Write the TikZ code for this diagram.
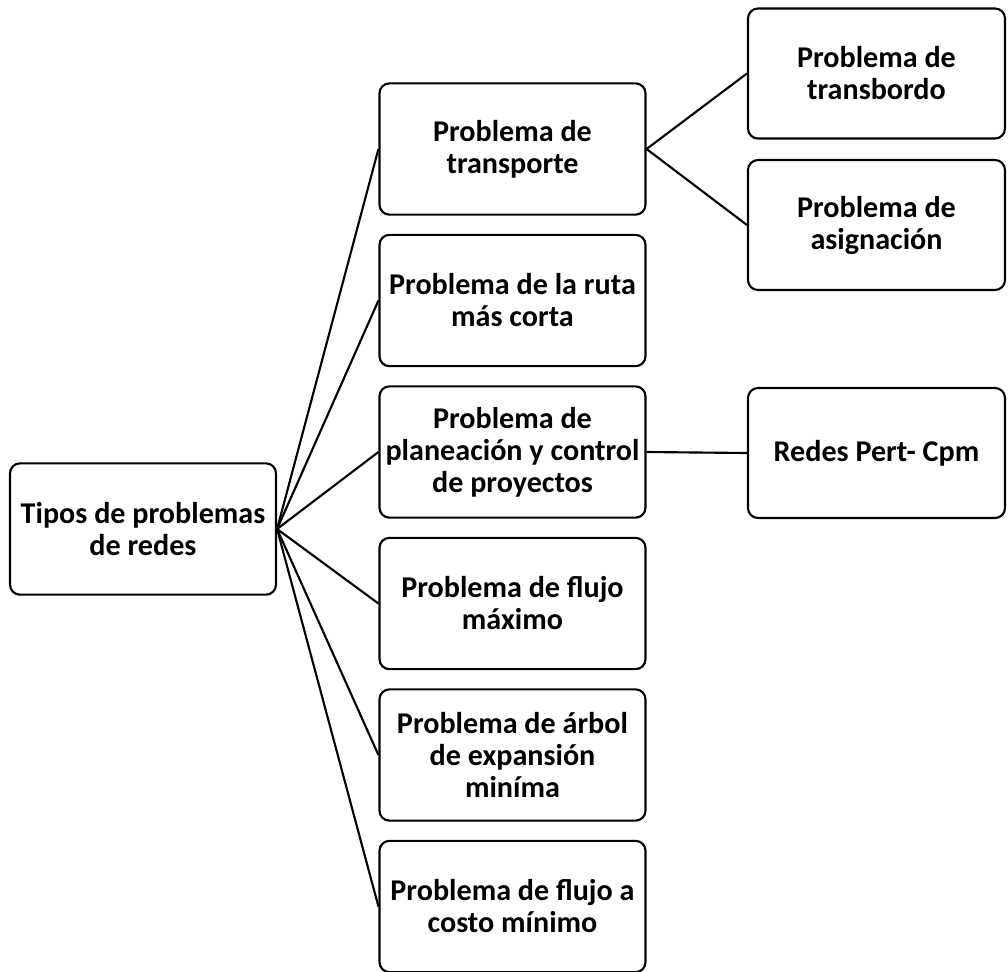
\documentclass[tikz,border=0pt]{standalone}
\usepackage{fontspec}
\setmainfont{Carlito}
\begin{document}
\begin{tikzpicture}[x=0.75pt, y=-0.75pt,
    caja/.style={draw, line width=1.6pt, rounded corners=7.5pt, align=center,
        font=\bfseries\fontsize{22.6}{24}\selectfont, inner sep=0pt,
        minimum width=199.5pt, minimum height=98.5pt},
    cajader/.style={caja, minimum width=192.75pt, minimum height=97.5pt},
    enlace/.style={-, line width=1.6pt}]
            \useasboundingbox (0, 0) rectangle (1008, 972);

            \node[caja] (tipos) at (143, 529) {Tipos de problemas\\de redes};

            \foreach \i/\txt in {1/{Problema de\\transporte},
                                 2/{Problema de la ruta\\más corta},
                                 3/{Problema de\\planeación y control\\de proyectos},
                                 4/{Problema de flujo\\máximo},
                                 5/{Problema de árbol\\de expansión\\miníma},
                                 6/{Problema de flujo a\\costo mínimo}}{
                \node[caja] (prob\i) at (512.5, {149 + (\i - 1)*151.5}) {\txt};
                \draw[enlace] (tipos.east) to (prob\i.west);
            }

            \node[cajader] (transb) at (876.5, 73.5) {Problema de\\transbordo};
            \node[cajader] (asig) at (876.5, 225) {Problema de\\asignación};
            \node[cajader] (pert) at (876.5, 453) {Redes Pert- Cpm};

            \draw[enlace] (prob1.east) to (transb.west);
            \draw[enlace] (prob1.east) to (asig.west);
            \draw[enlace] (prob3.east) to (pert.west);
        \end{tikzpicture}
\end{document}
